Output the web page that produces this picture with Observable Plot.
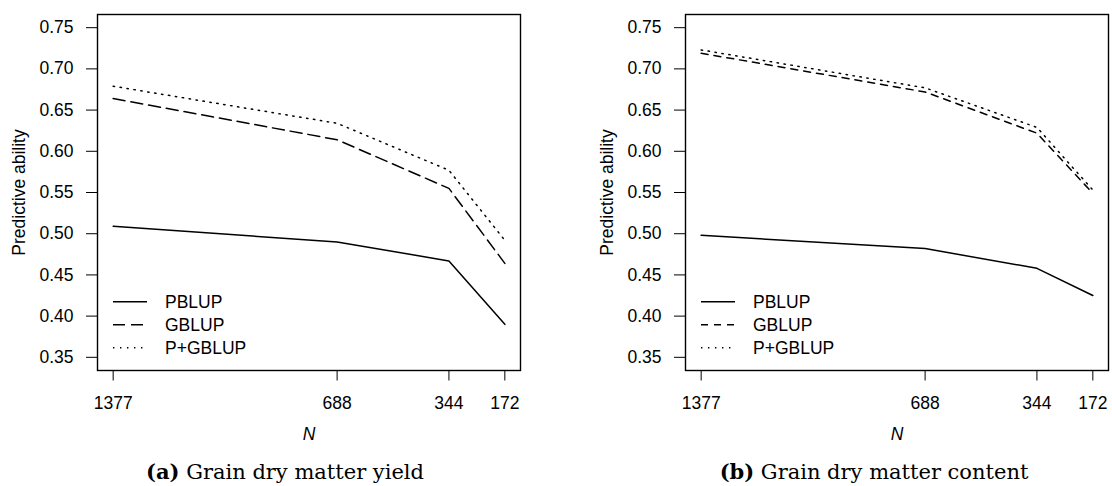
<!DOCTYPE html>
<html><head><meta charset="utf-8">
<script src="https://cdn.jsdelivr.net/npm/d3@7"></script>
<script src="https://cdn.jsdelivr.net/npm/@observablehq/plot@0.6"></script>
<style>
body{margin:0;background:#fff;width:1112px;height:486px;overflow:hidden;position:relative}
.panel{position:absolute;top:0}
.cap{position:absolute;top:459px;font-family:"DejaVu Serif",serif;font-size:21px;white-space:nowrap;transform:translateX(-50%);color:#000}
</style></head><body>
<script>
const N = [1377, 688, 344, 172];
const methods = ["PBLUP", "GBLUP", "P+GBLUP"];
const yieldPBLUP = [0.509, 0.490, 0.467, 0.390];
const yieldGBLUP = [0.664, 0.614, 0.555, 0.464];
const yieldPG = [0.679, 0.634, 0.577, 0.492];
const contentPBLUP = [0.498, 0.482, 0.458, 0.425];
const contentGBLUP = [0.719, 0.672, 0.622, 0.549];
const contentPG = [0.723, 0.677, 0.629, 0.553];
const yTicks = [0.35, 0.40, 0.45, 0.50, 0.55, 0.60, 0.65, 0.70, 0.75];
const captions = [["(a)", "Grain dry matter yield"], ["(b)", "Grain dry matter content"]];

const fontSans = "'Liberation Sans', Arial, sans-serif";
const xr = d3.max(N) - d3.min(N);
const xDomain = [d3.max(N) + 0.04 * xr, d3.min(N) - 0.04 * xr];
const yr = d3.max(yTicks) - d3.min(yTicks);
const yDomain = [d3.min(yTicks) - 0.04 * yr, d3.max(yTicks) + 0.04 * yr];

function panel(series, dashes, width, marginRight) {
  const data = series.flatMap((vals, i) => vals.map((v, j) => ({N: N[j], v, m: methods[i]})));
  const svg = Plot.plot({
    width, height: 446,
    marginLeft: 97, marginRight, marginTop: 14, marginBottom: 76,
    style: {fontFamily: fontSans, fontSize: "17.5px", color: "#000", background: "#fff", overflow: "visible"},
    x: {domain: xDomain},
    y: {domain: yDomain},
    marks: [
      ...methods.map((m, i) => Plot.line(data.filter(d => d.m === m), {
        x: "N", y: "v", stroke: "#000", strokeWidth: 1.5, strokeDasharray: dashes[i]
      })),
      Plot.frame({stroke: "#000", strokeWidth: 1.4}),
      Plot.axisY(yTicks, {tickSize: 11, tickPadding: 13, tickFormat: d3.format(".2f"), label: null, fontSize: 17.5, strokeWidth: 1}),
      Plot.axisX(N, {tickSize: 10.5, tickPadding: 16, tickFormat: d => String(d), label: null, fontSize: 17.5, strokeWidth: 1}),
      Plot.text(["Predictive ability"], {frameAnchor: "left", dx: -78, rotate: -90, fontSize: 17.5, textAnchor: "middle", lineAnchor: "middle"}),
      Plot.text(["N"], {frameAnchor: "bottom", dy: 64, fontStyle: "italic", fontSize: 17.5, textAnchor: "middle", lineAnchor: "middle"})
    ]
  });
  // legend
  const g = d3.select(svg).append("g").attr("font-family", fontSans).attr("font-size", 17.5).attr("text-anchor", "start");
  methods.forEach((m, i) => {
    const y = 301.7 + i * 23;
    g.append("line").attr("x1", 113).attr("x2", 147).attr("y1", y).attr("y2", y)
      .attr("stroke", "#000").attr("stroke-width", 1.5).attr("stroke-dasharray", dashes[i]);
    g.append("text").attr("x", 165).attr("y", y).attr("dy", "0.35em").attr("text-anchor", "start").text(m);
  });
  return svg;
}

function place(el, left) {
  const d = document.createElement("div");
  d.className = "panel"; d.style.left = left + "px";
  d.appendChild(el); document.body.appendChild(d);
}
place(panel([yieldPBLUP, yieldGBLUP, yieldPG], [null, "12,6", "1.4,5.6"], 556, 36), 0);
place(panel([contentPBLUP, contentGBLUP, contentPG], [null, "7,6", "1.4,5.6"], 524, 4), 588);

[[285, captions[0]], [874, captions[1]]].forEach(([cx, [lab, txt]]) => {
  const d = document.createElement("div");
  d.className = "cap"; d.style.left = cx + "px";
  d.innerHTML = `<b>${lab}</b> ${txt}`;
  document.body.appendChild(d);
});
</script>
</body></html>
